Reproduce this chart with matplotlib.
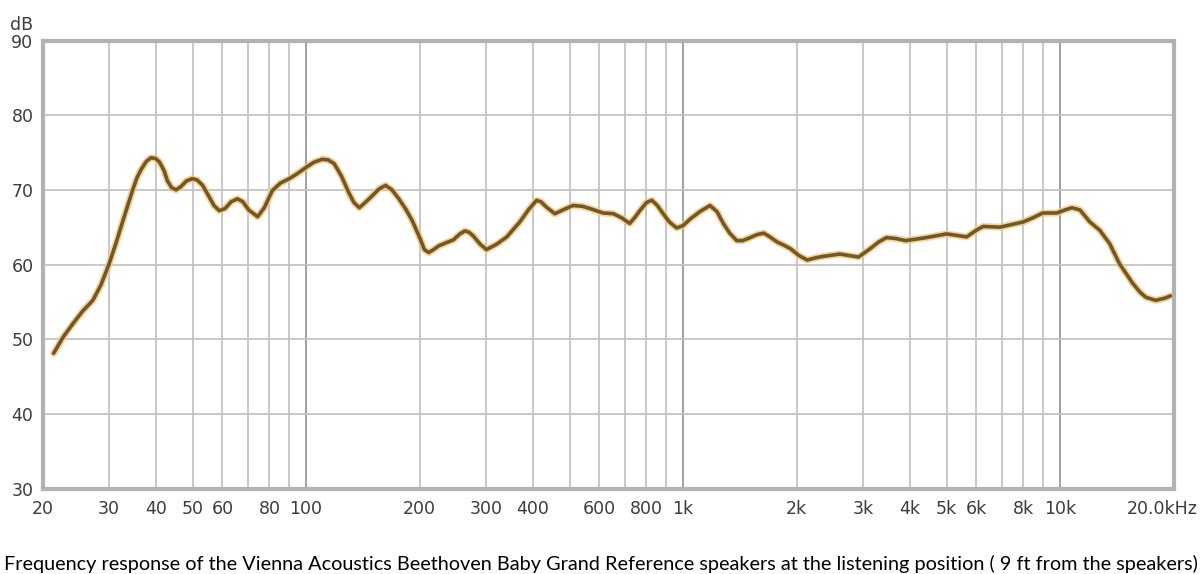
import matplotlib
matplotlib.use("Agg")
import matplotlib.pyplot as plt
import matplotlib.transforms as mtransforms

# ---- data ----
freq_hz = [21.4, 22.7, 24.1, 25.6, 27.2, 28.6, 30, 31.3, 32.7, 34.7, 35.6, 36.6, 37.7, 38.8,
           39.9, 40.9, 42.0, 42.9, 44.0, 45.2, 46.5, 48.2, 50.0, 51.5, 53.2, 55.0, 57.0,
           58.9, 61.0, 63.3, 65.8, 68.0, 70.5, 74.4, 77.5, 81.4, 85.5, 90.3, 95, 100, 105,
           110.6, 114.5, 118.8, 124, 130.2, 134, 138.5, 143.5, 149.9, 156, 162.5, 169,
           176.3, 184, 191.2, 201, 206, 211.6, 218, 225, 235, 246, 256, 264, 271, 278,
           290, 301, 320, 341, 369, 390, 409, 420, 434, 457, 480, 510, 540, 566, 614, 654,
           690, 722, 745, 768, 800, 827, 855, 886, 920, 962, 1000, 1045, 1110, 1179, 1230,
           1279, 1330, 1388, 1440, 1508, 1570, 1638, 1700, 1779, 1850, 1930, 2030, 2135,
           2250, 2362, 2608, 2920, 3133, 3300, 3463, 3650, 3900, 4417, 5000, 5654, 6000,
           6256, 6930, 7992, 8512, 9000, 9810, 10300, 10760, 11300, 12000, 12740, 13540,
           14380, 15580, 16300, 16900, 17950, 19000, 19640]
level_db = [48.1, 50.3, 52.1, 53.8, 55.2, 57.3, 60.0, 62.8, 65.9, 70.0, 71.6, 72.8, 73.8, 74.3,
            74.2, 73.7, 72.6, 71.2, 70.3, 70.0, 70.4, 71.2, 71.5, 71.3, 70.6, 69.3, 67.9,
            67.2, 67.5, 68.4, 68.8, 68.4, 67.3, 66.4, 67.6, 69.9, 70.9, 71.5, 72.2, 73.0, 73.7,
            74.1, 74.0, 73.5, 71.9, 69.5, 68.3, 67.6, 68.3, 69.2, 70.1, 70.6, 70.0,
            68.8, 67.4, 65.9, 63.4, 62.0, 61.6, 62.0, 62.5, 62.9, 63.3, 64.1, 64.5, 64.3, 63.8,
            62.7, 62.0, 62.7, 63.7, 65.7, 67.4, 68.6, 68.4, 67.7, 66.8, 67.3, 67.9, 67.8, 67.5, 66.9, 66.8,
            66.2, 65.5, 66.3, 67.2, 68.3, 68.6, 67.9, 66.8, 65.7, 64.9, 65.2, 66.1, 67.1, 67.9, 67.1,
            65.5, 64.2, 63.2, 63.2, 63.6, 64.0, 64.2, 63.7, 63.0, 62.6, 62.1, 61.2, 60.6,
            60.9, 61.1, 61.4, 61.0, 62.1, 63.0, 63.6, 63.5, 63.2, 63.6, 64.1, 63.7, 64.6,
            65.1, 65.0, 65.7, 66.3, 66.9, 66.9, 67.3, 67.6, 67.3, 65.7, 64.6, 62.8,
            60.1, 57.5, 56.3, 55.6, 55.2, 55.5, 55.8]

grid_freqs = [30, 40, 50, 60, 70, 80, 90, 100, 200, 300, 400, 500, 600, 700, 800, 900,
              1000, 2000, 3000, 4000, 5000, 6000, 7000, 8000, 9000, 10000]
decade_freqs = [100, 1000, 10000]
xtick_freqs = [20, 30, 40, 50, 60, 80, 100, 200, 300, 400, 600, 800, 1000, 2000, 3000,
               4000, 5000, 6000, 8000, 10000]
xtick_labels = ["20", "30", "40", "50", "60", "80", "100", "200", "300", "400", "600",
                "800", "1k", "2k", "3k", "4k", "5k", "6k", "8k", "10k"]
last_label = "20.0kHz"
ytick_vals = [30, 40, 50, 60, 70, 80, 90]
caption = ("Frequency response of the Vienna Acoustics Beethoven Baby Grand Reference "
           "speakers at the listening position ( 9 ft from the speakers)")

W, H = 1202, 574
fig = plt.figure(figsize=(W / 100, H / 100), dpi=100)
fig.patch.set_facecolor("white")
L, R, T, B = 42.5, 1173.5, 40.5, 488.5
ax = fig.add_axes([L / W, (H - B) / H, (R - L) / W, (B - T) / H])
ax.set_xscale("log")
ax.set_xlim(20, 20000)
ax.set_ylim(30, 90)

grid_c = "#c4c4c4"
for f in grid_freqs:
    c = "#9a9a9a" if f in decade_freqs else grid_c
    ax.axvline(f, color=c, lw=1.3, zorder=1)
for v in ytick_vals[1:-1]:
    ax.axhline(v, color=grid_c, lw=1.3, zorder=1)

ax.plot(freq_hz, level_db, color="#f5c87a", lw=5.0, solid_capstyle="round",
        solid_joinstyle="round", zorder=3, alpha=0.8)
ax.plot(freq_hz, level_db, color="#72572a", lw=2.6, solid_capstyle="round",
        solid_joinstyle="round", zorder=4)

tick_c = "#3c3c3c"
ax.set_xticks(xtick_freqs)
ax.set_xticklabels(xtick_labels)
ax.xaxis.set_minor_locator(matplotlib.ticker.NullLocator())
ax.set_yticks(ytick_vals)
ax.set_yticklabels([str(v) for v in ytick_vals])
ax.tick_params(axis="both", length=0, labelsize=12.5, labelcolor=tick_c)
ax.tick_params(axis="x", pad=8.3)
ax.tick_params(axis="y", pad=6.5)
for lab in ax.get_xticklabels() + ax.get_yticklabels():
    lab.set_fontfamily("DejaVu Sans")

trans = mtransforms.blended_transform_factory(ax.transData, ax.transAxes)
ax.text(20000, 0, last_label, transform=trans + mtransforms.ScaledTranslation(0.245, -0.113, fig.dpi_scale_trans),
        ha="right", va="top", fontsize=12.5, color=tick_c, family="DejaVu Sans")
ax.text(-0.0085, 1.0, "dB", transform=ax.transAxes + mtransforms.ScaledTranslation(0, 0.155, fig.dpi_scale_trans),
        ha="right", va="center", fontsize=12.5, color=tick_c, family="DejaVu Sans")

for s in ax.spines.values():
    s.set_color("#b2b2b2")
    s.set_linewidth(3.0)
    s.set_zorder(5)

cap = fig.text(0.5, (H - 570) / H, caption, ha="center", va="baseline",
               fontsize=14, color="black", family="Lato")
fig.canvas.draw()
r = fig.canvas.get_renderer()
w = cap.get_window_extent(r).width
cap.set_fontsize(14 * 1196 / w)

fig.savefig("out.png", dpi=100, facecolor="white")
